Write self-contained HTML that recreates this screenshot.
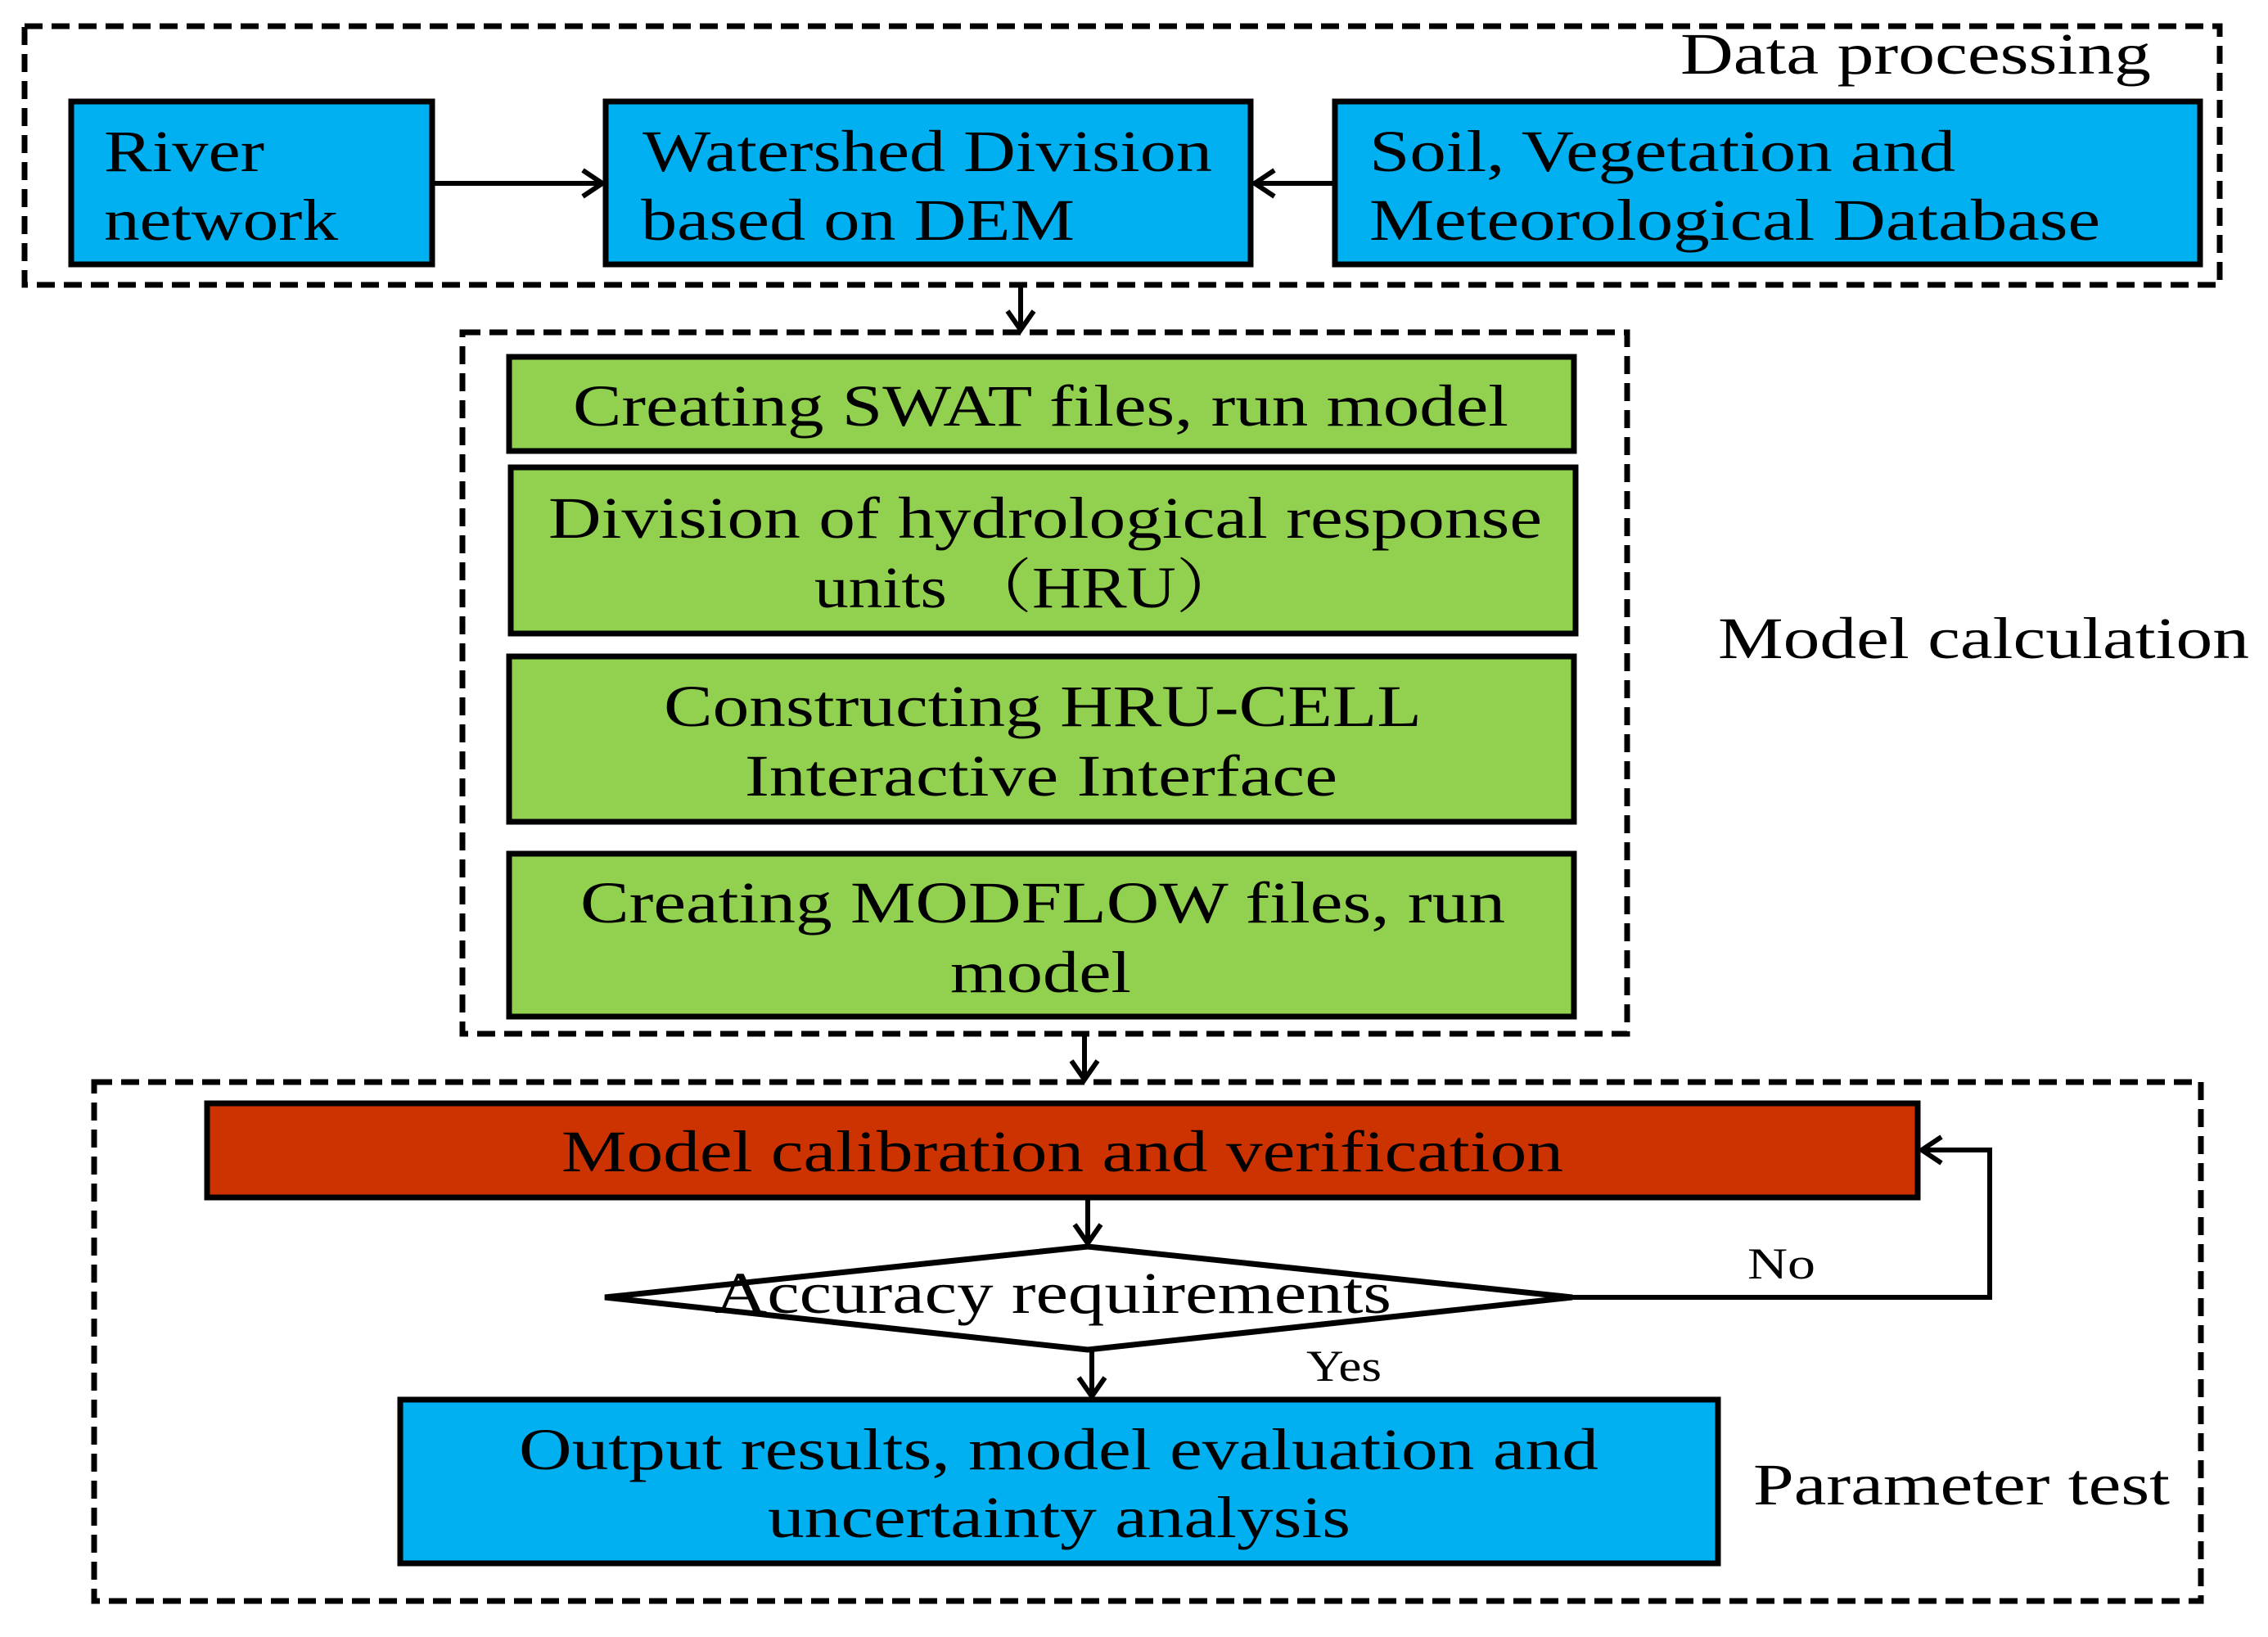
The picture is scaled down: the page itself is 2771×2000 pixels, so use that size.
<!DOCTYPE html>
<html><head><meta charset="utf-8"><style>html,body{margin:0;padding:0;background:#fff}svg{display:block}</style></head>
<body>
<svg width="2771" height="2000" viewBox="0 0 2771 2000" xmlns="http://www.w3.org/2000/svg" font-family="Liberation Serif, serif" font-size="72" fill="#000">
<g fill="none" stroke="#000" stroke-width="7" stroke-dasharray="22,11">
<rect x="30" y="32" width="2682" height="316"/>
<rect x="565" y="406" width="1423" height="857"/>
<rect x="115" y="1322" width="2574" height="634"/>
</g>
<g stroke="#000" stroke-width="7">
<rect x="87" y="124" width="441" height="199" fill="#00b0f0"/>
<rect x="740" y="124" width="788" height="199" fill="#00b0f0"/>
<rect x="1631" y="124" width="1057" height="199" fill="#00b0f0"/>
<rect x="622" y="436" width="1301" height="115" fill="#92d050"/>
<rect x="624" y="571" width="1301" height="203" fill="#92d050"/>
<rect x="622" y="802" width="1301" height="202" fill="#92d050"/>
<rect x="622" y="1043" width="1301" height="199" fill="#92d050"/>
<rect x="253" y="1348" width="2090" height="115" fill="#cc3300"/>
<polygon points="739,1585 1329,1523 1921,1585 1329,1649" fill="#fff"/>
<rect x="489" y="1710" width="1610" height="200" fill="#00b0f0"/>
</g>
<g stroke="#000" stroke-width="6" fill="none">
<line x1="528" y1="224" x2="736" y2="224"/><polyline points="712,208 736,224 712,240"/>
<line x1="1631" y1="224" x2="1533" y2="224"/><polyline points="1557,208 1533,224 1557,240"/>
<line x1="1247" y1="348" x2="1247" y2="403"/><polyline points="1231,380 1247,403 1263,380"/>
<line x1="1325" y1="1263" x2="1325" y2="1319"/><polyline points="1309,1296 1325,1319 1341,1296"/>
<line x1="1329" y1="1463" x2="1329" y2="1519"/><polyline points="1313,1496 1329,1519 1345,1496"/>
<line x1="1334" y1="1649" x2="1334" y2="1706"/><polyline points="1318,1683 1334,1706 1350,1683"/>
<polyline points="1921,1585 2431,1585 2431,1405 2348,1405"/><polyline points="2372,1389 2348,1405 2372,1421"/>
</g>
<g>
<text x="127" y="209" textLength="196" lengthAdjust="spacingAndGlyphs">River</text>
<text x="127" y="293" textLength="286" lengthAdjust="spacingAndGlyphs">network</text>
<text x="785" y="209" textLength="696" lengthAdjust="spacingAndGlyphs">Watershed Division</text>
<text x="783" y="293" textLength="530" lengthAdjust="spacingAndGlyphs">based on DEM</text>
<text x="1673" y="209" textLength="716" lengthAdjust="spacingAndGlyphs">Soil, Vegetation and</text>
<text x="1673" y="293" textLength="893" lengthAdjust="spacingAndGlyphs">Meteorological Database</text>
<text x="2053" y="90" textLength="575" lengthAdjust="spacingAndGlyphs">Data processing</text>
<text x="700" y="520" textLength="1143" lengthAdjust="spacingAndGlyphs">Creating SWAT files, run model</text>
<text x="670" y="657" textLength="1214" lengthAdjust="spacingAndGlyphs">Division of hydrological response</text>
<text x="995" y="742" textLength="525" lengthAdjust="spacingAndGlyphs" font-family="Liberation Serif, Noto Serif CJK SC, serif">units （HRU）</text>
<text x="811" y="887" textLength="926" lengthAdjust="spacingAndGlyphs">Constructing HRU-CELL</text>
<text x="910" y="972" textLength="724" lengthAdjust="spacingAndGlyphs">Interactive Interface</text>
<text x="709" y="1127" textLength="1130" lengthAdjust="spacingAndGlyphs">Creating MODFLOW files, run</text>
<text x="1161" y="1212" textLength="221" lengthAdjust="spacingAndGlyphs">model</text>
<text x="2099" y="804" textLength="649" lengthAdjust="spacingAndGlyphs">Model calculation</text>
<text x="686" y="1431" textLength="1224" lengthAdjust="spacingAndGlyphs">Model calibration and verification</text>
<text x="873" y="1604" textLength="827" lengthAdjust="spacingAndGlyphs">Accuracy requirements</text>
<text x="2135" y="1562" font-size="54" textLength="83" lengthAdjust="spacingAndGlyphs">No</text>
<text x="1596" y="1687" font-size="54" textLength="92" lengthAdjust="spacingAndGlyphs">Yes</text>
<text x="634" y="1795" textLength="1319" lengthAdjust="spacingAndGlyphs">Output results, model evaluation and</text>
<text x="938" y="1878" textLength="712" lengthAdjust="spacingAndGlyphs">uncertainty analysis</text>
<text x="2142" y="1838" textLength="509" lengthAdjust="spacingAndGlyphs">Parameter test</text>
</g>
</svg>
</body></html>
